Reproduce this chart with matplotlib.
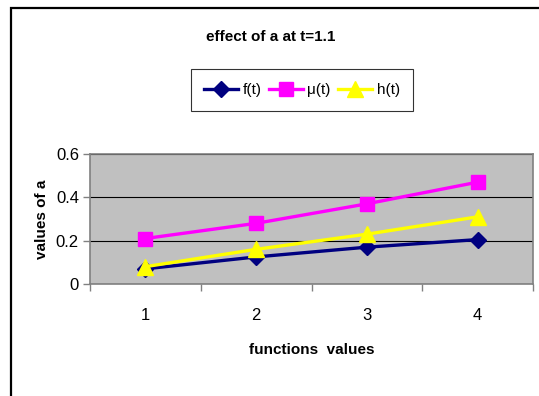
import matplotlib
matplotlib.use('Agg')
import matplotlib.pyplot as plt
from matplotlib.patches import Rectangle

plt.rcParams['font.family'] = ['Liberation Sans', 'DejaVu Sans']

# data
categories = [1, 2, 3, 4]
f_vals = [0.07, 0.125, 0.17, 0.205]
mu_vals = [0.21, 0.28, 0.37, 0.47]
h_vals = [0.08, 0.16, 0.23, 0.31]
yticks = [0, 0.2, 0.4, 0.6]

W, H = 539, 396
fig = plt.figure(figsize=(W / 100, H / 100), dpi=100)

# outer chart border (runs off right/bottom)
fig.patches.append(Rectangle((11 / W, -0.2), 2.0, (396 - 8) / H + 0.2,
                             transform=fig.transFigure, fill=False,
                             edgecolor='black', linewidth=1.6))

ax = fig.add_axes([90 / W, 1 - 284 / H, (533 - 90) / W, (284 - 154) / H])
ax.set_facecolor('#C0C0C0')

ax.plot(categories, f_vals, color='#000080', lw=2.4, marker='D', ms=8.5,
        label='f(t)', zorder=3)
ax.plot(categories, mu_vals, color='#FF00FF', lw=2.4, marker='s', ms=10,
        label='\u03bc(t)', zorder=3)
ax.plot(categories, h_vals, color='#FFFF00', lw=2.4, marker='^', ms=11,
        label='h(t)', zorder=3)

ax.set_xlim(0.5, 4.5)
ax.set_ylim(0, 0.6)
ax.set_yticks(yticks)
ax.set_yticklabels(['0', '0.2', '0.4', '0.6'])
ax.yaxis.grid(True, color='black', lw=0.8)
ax.set_axisbelow(True)

# tick marks between categories, labels under each category
ax.set_xticks([0.5, 1.5, 2.5, 3.5, 4.5])
ax.set_xticklabels([])
ax.set_xticks(categories, minor=True)
ax.set_xticklabels([str(c) for c in categories], minor=True)
ax.tick_params(axis='x', which='minor', length=0, pad=17, labelsize=12)
ax.tick_params(axis='both', which='major', direction='out', length=5,
               width=1, color='#808080', labelsize=12)
ax.tick_params(axis='y', pad=3)

for s in ax.spines.values():
    s.set_color('#808080')
    s.set_linewidth(1.2)

ax.set_xlabel('functions  values', fontsize=11, fontweight='bold', labelpad=15)
ax.set_ylabel('values of a', fontsize=11, fontweight='bold', labelpad=5)

fig.text(271 / W, 1 - 37 / H, 'effect of a at t=1.1', ha='center', va='center',
         fontsize=11, fontweight='bold')

leg = fig.legend(loc='center', bbox_to_anchor=(302 / W, 1 - 90 / H), ncol=3,
                 fontsize=11, frameon=True, fancybox=False, handlelength=2.2,
                 handletextpad=0.3, columnspacing=0.5, borderpad=0.9,
                 borderaxespad=0)
leg.get_frame().set_edgecolor('black')
leg.get_frame().set_linewidth(0.8)

fig.savefig('out.png', dpi=100)
